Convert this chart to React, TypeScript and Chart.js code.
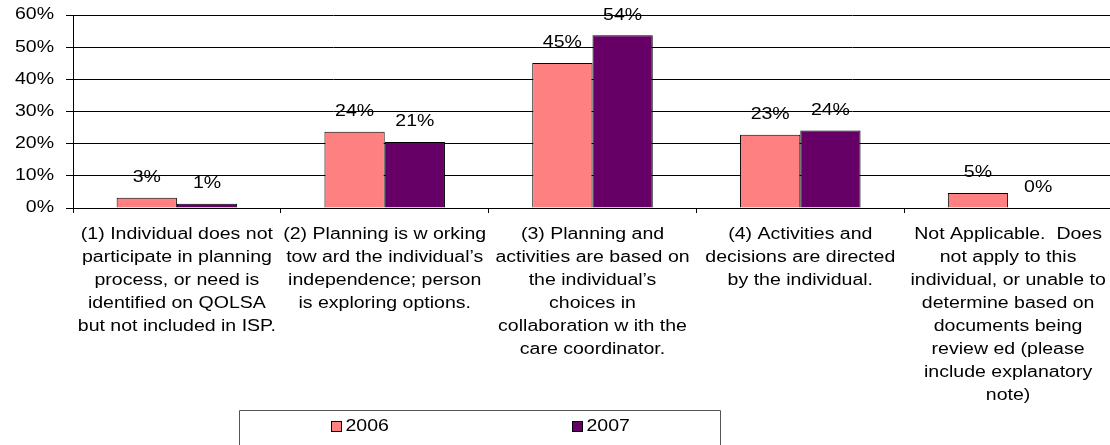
import React, { useEffect, useRef } from "react";
import { Chart, registerables } from "chart.js";

Chart.register(...registerables);

const categories: string[][] = [
  ["(1) Individual does not", "participate in planning", "process, or need is", "identified on QOLSA", "but not included in ISP."],
  ["(2) Planning is w orking", "tow ard the individual’s", "independence; person", "is exploring options."],
  ["(3) Planning and", "activities are based on", "the individual’s", "choices in", "collaboration w ith the", "care coordinator."],
  ["(4) Activities and", "decisions are directed", "by the individual."],
  ["Not Applicable.  Does", "not apply to this", "individual, or unable to", "determine based on", "documents being", "review ed (please", "include explanatory", "note)"],
];

const seriesLabels = ["2006", "2007"];
const values2006 = [3.2, 23.7, 45.1, 22.8, 4.7];
const values2007 = [1.3, 20.5, 53.7, 24.1, 0];
const seriesColors = ["#FF8080", "#660066"];

const yMin = 0;
const yMax = 60;
const yStep = 10;

const FONT = "'Liberation Sans', Arial, sans-serif";
const STRETCH = 1.22;

const dataLabelPlugin = {
  id: "dataLabels",
  afterDatasetsDraw(chart: any) {
    const ctx = chart.ctx;
    ctx.save();
    ctx.font = `16px ${FONT}`;
    ctx.fillStyle = "#000";
    ctx.textAlign = "center";
    ctx.textBaseline = "middle";
    chart.data.datasets.forEach((ds: any, di: number) => {
      const meta = chart.getDatasetMeta(di);
      meta.data.forEach((bar: any, i: number) => {
        const v = ds.data[i];
        ctx.fillText(`${Math.round(v)}%`, bar.x, bar.y - 20);
      });
    });
    ctx.restore();
  },
};

const boxLegendPlugin = {
  id: "boxLegend",
  afterDraw(chart: any) {
    const ctx = chart.ctx;
    const left = 239.5;
    const right = 720.5;
    const top = 410.5;
    const bottom = chart.height + 2;
    ctx.save();
    ctx.strokeStyle = "#555";
    ctx.lineWidth = 1;
    ctx.beginPath();
    ctx.moveTo(left, bottom);
    ctx.lineTo(left, top);
    ctx.lineTo(right, top);
    ctx.lineTo(right, bottom);
    ctx.stroke();
    const n = chart.data.datasets.length;
    const colW = (right - left) / n;
    ctx.font = `16px ${FONT}`;
    ctx.textBaseline = "middle";
    ctx.textAlign = "left";
    const cy = 427;
    chart.data.datasets.forEach((ds: any, i: number) => {
      const tw = ctx.measureText(ds.label).width;
      const box = 10;
      const gap = 4;
      const total = box + gap + tw;
      const cx = left + colW * (i + 0.5);
      const x0 = Math.round(cx - total / 2) + 0.5;
      ctx.fillStyle = ds.backgroundColor;
      ctx.fillRect(x0, cy - 6 + 0.5, box, box);
      ctx.strokeStyle = "#000";
      ctx.strokeRect(x0, cy - 6 + 0.5, box, box);
      ctx.fillStyle = "#000";
      ctx.fillText(ds.label, x0 + box + gap, cy);
    });
    ctx.restore();
  },
};

export default function App() {
  const canvasRef = useRef<HTMLCanvasElement | null>(null);

  useEffect(() => {
    const canvas = canvasRef.current;
    if (!canvas) return;
    const ctx = canvas.getContext("2d") as any;
    const origFill = ctx.fillText.bind(ctx);
    const origMeasure = ctx.measureText.bind(ctx);
    ctx.fillText = (t: string, x: number, y: number) => {
      ctx.save();
      ctx.translate(x, y);
      ctx.scale(STRETCH, 1);
      origFill(t, 0, 0);
      ctx.restore();
    };
    ctx.measureText = (t: string) => {
      const m = origMeasure(t);
      return {
        width: m.width * STRETCH,
        actualBoundingBoxAscent: m.actualBoundingBoxAscent,
        actualBoundingBoxDescent: m.actualBoundingBoxDescent,
        actualBoundingBoxLeft: m.actualBoundingBoxLeft * STRETCH,
        actualBoundingBoxRight: m.actualBoundingBoxRight * STRETCH,
        fontBoundingBoxAscent: m.fontBoundingBoxAscent,
        fontBoundingBoxDescent: m.fontBoundingBoxDescent,
      };
    };

    const chart = new Chart(canvas, {
      type: "bar",
      data: {
        labels: categories,
        datasets: [
          {
            label: seriesLabels[0],
            data: values2006,
            backgroundColor: seriesColors[0],
            borderColor: "#000",
            borderWidth: 1,
          },
          {
            label: seriesLabels[1],
            data: values2007,
            backgroundColor: seriesColors[1],
            borderColor: "#000",
            borderWidth: 1,
          },
        ],
      },
      options: {
        animation: false,
        responsive: false,
        devicePixelRatio: 1,
        layout: { padding: { left: 0, top: 15, right: 8, bottom: 0 } },
        datasets: {
          bar: { categoryPercentage: 0.58, barPercentage: 1.0 },
        },
        plugins: {
          legend: { display: false },
          tooltip: { enabled: false },
          title: { display: false },
        },
        scales: {
          x: {
            grid: {
              offset: true,
              drawOnChartArea: false,
              drawTicks: true,
              tickLength: 5,
              color: "#000",
            },
            border: { display: true, color: "#000" },
            ticks: {
              font: { family: FONT, size: 16, lineHeight: "23px" },
              color: "#000",
              maxRotation: 0,
              minRotation: 0,
              autoSkip: false,
              padding: 10,
            },
            afterFit(scale: any) {
              scale.height = 445 - 208;
            },
          },
          y: {
            min: yMin,
            max: yMax,
            grid: {
              color: "#000",
              lineWidth: 1,
              tickLength: 7,
              drawTicks: true,
            },
            border: { display: true, color: "#000" },
            ticks: {
              stepSize: yStep,
              font: { family: FONT, size: 16 },
              color: "#000",
              padding: 12,
              callback: (v: any) => `${v}%`,
            },
            afterFit(scale: any) {
              scale.width = 73;
              scale.paddingTop = 8;
              scale.paddingBottom = 8;
            },
          },
        },
      },
      plugins: [dataLabelPlugin, boxLegendPlugin],
    });

    return () => {
      chart.destroy();
    };
  }, []);

  return (
    <div style={{ position: "absolute", left: 0, top: 0, width: 1120, height: 445, background: "#fff" }}>
      <canvas ref={canvasRef} width={1120} height={445} style={{ display: "block", width: 1120, height: 445 }} />
    </div>
  );
}
